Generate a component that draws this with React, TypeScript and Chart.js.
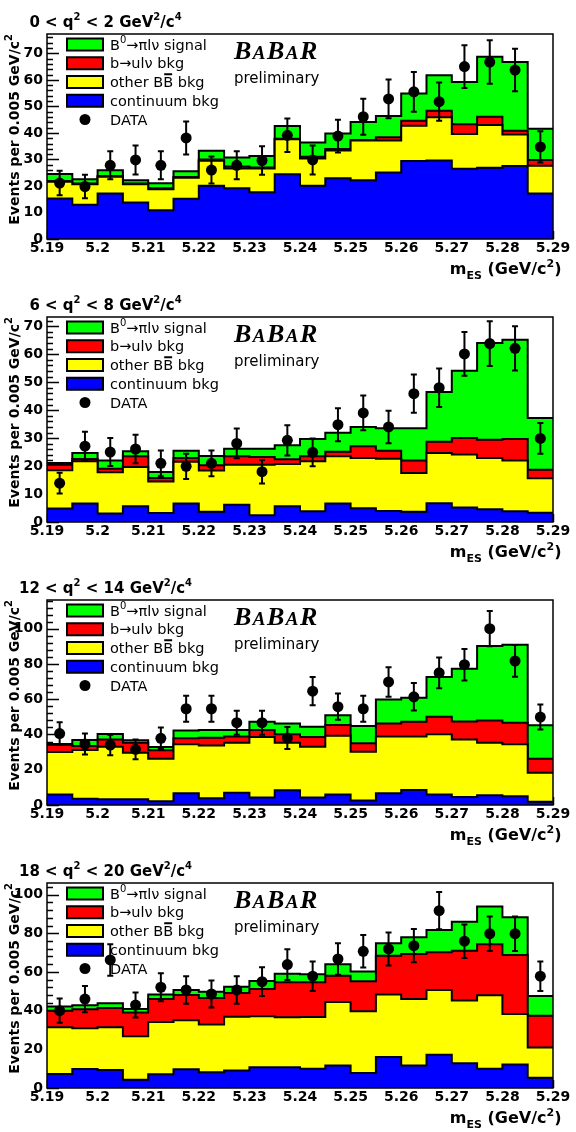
import React, { useEffect, useRef } from 'react';
import { Chart, registerables } from 'chart.js';

Chart.register(...registerables);

// ---------- axes / bins ----------
const binEdges = [5.19, 5.195, 5.2, 5.205, 5.21, 5.215, 5.22, 5.225, 5.23, 5.235, 5.24, 5.245, 5.25, 5.255, 5.26, 5.265, 5.27, 5.275, 5.28, 5.285, 5.29];
const binCenters = [5.1925, 5.1975, 5.2025, 5.2075, 5.2125, 5.2175, 5.2225, 5.2275, 5.2325, 5.2375, 5.2425, 5.2475, 5.2525, 5.2575, 5.2625, 5.2675, 5.2725, 5.2775, 5.2825, 5.2875];
const xTickValues = [5.19, 5.2, 5.21, 5.22, 5.23, 5.24, 5.25, 5.26, 5.27, 5.28, 5.29];
const xTickLabels = ['5.19', '5.2', '5.21', '5.22', '5.23', '5.24', '5.25', '5.26', '5.27', '5.28', '5.29'];

// ---------- panel 1: 0 < q2 < 2 ----------
const p1Continuum = [15.3, 12.9, 17.2, 13.8, 10.8, 15.2, 20.1, 19.1, 17.6, 24.4, 20.1, 22.9, 22.2, 25.1, 29.4, 29.6, 26.5, 26.9, 27.5, 17.2];
const p1OtherBB = [6.3, 7.7, 6.3, 6.8, 8.0, 7.9, 9.4, 7.5, 9.0, 13.2, 10.3, 10.5, 14.9, 12.0, 13.3, 16.3, 13.1, 16.1, 11.9, 10.4];
const p1BToU = [0.3, 0.3, 0.3, 0.3, 0.3, 0.3, 0.5, 0.7, 0.4, 0.2, 0.6, 0.5, 0.2, 1.3, 1.9, 2.5, 3.7, 3.1, 1.4, 2.2];
const p1Signal = [2.6, 1.6, 2.1, 1.3, 1.9, 2.1, 3.3, 3.4, 4.3, 4.8, 5.4, 5.9, 6.8, 8.0, 10.3, 13.3, 15.9, 22.6, 25.9, 11.8];
const p1Data = [21.1, 19.8, 27.8, 29.8, 27.8, 38.1, 26.0, 27.8, 29.6, 39.1, 29.8, 38.8, 46.1, 52.8, 55.5, 51.8, 65.0, 66.7, 63.7, 34.7];
const p1Err = [4.6, 4.4, 5.3, 5.5, 5.3, 6.2, 5.1, 5.3, 5.4, 6.3, 5.5, 6.2, 6.8, 7.3, 7.5, 7.2, 8.1, 8.2, 8.0, 5.9];

// ---------- panel 2: 6 < q2 < 8 ----------
const p2Continuum = [4.8, 6.6, 3.0, 5.6, 3.2, 6.6, 3.7, 6.2, 2.4, 5.6, 3.8, 6.6, 4.9, 3.9, 3.7, 6.7, 5.2, 4.6, 3.8, 3.3];
const p2OtherBB = [13.7, 15.1, 14.8, 14.1, 11.3, 14.9, 14.7, 14.3, 18.1, 15.1, 17.9, 16.9, 18.0, 18.7, 13.8, 18.0, 18.9, 18.3, 18.2, 12.3];
const p2BToU = [2.0, 0.8, 1.2, 3.8, 1.2, 1.4, 1.9, 3.0, 2.7, 1.7, 1.8, 1.6, 4.2, 2.9, 4.5, 4.0, 5.9, 6.5, 7.7, 3.1];
const p2Signal = [0.6, 2.2, 3.0, 1.8, 2.2, 2.6, 3.3, 2.7, 3.0, 5.0, 6.2, 6.8, 6.9, 8.0, 11.5, 17.8, 24.1, 34.6, 35.5, 18.5];
const p2Data = [13.9, 27.1, 25.0, 26.1, 21.0, 19.9, 21.0, 28.1, 18.0, 29.2, 24.9, 34.8, 39.0, 34.0, 45.9, 48.0, 60.1, 63.8, 62.1, 29.9];
const p2Err = [3.7, 5.2, 5.0, 5.1, 4.6, 4.5, 4.6, 5.3, 4.2, 5.4, 5.0, 5.9, 6.2, 5.8, 6.8, 6.9, 7.8, 8.0, 7.9, 5.5];

// ---------- panel 3: 12 < q2 < 14 ----------
const p3Continuum = [6.0, 3.6, 3.2, 3.2, 2.1, 6.6, 3.8, 7.0, 4.2, 8.3, 4.3, 5.9, 2.6, 6.6, 8.5, 5.9, 4.5, 5.5, 4.9, 1.9];
const p3OtherBB = [24.1, 27.6, 29.9, 26.5, 24.2, 27.8, 30.0, 28.3, 34.4, 27.0, 28.8, 33.4, 27.6, 32.2, 30.3, 34.2, 32.7, 29.8, 29.5, 16.4];
const p3BToU = [4.1, 2.3, 4.1, 5.6, 4.7, 3.4, 4.4, 3.5, 3.9, 4.8, 5.5, 6.1, 4.8, 7.5, 8.5, 10.0, 10.2, 12.7, 12.3, 8.0];
const p3Signal = [0.4, 3.4, 3.1, 1.4, 1.9, 4.5, 4.3, 3.7, 4.8, 6.2, 5.8, 5.5, 9.8, 13.6, 13.6, 22.5, 29.9, 42.2, 44.2, 18.9];
const p3Data = [40.5, 34.6, 34.0, 31.6, 37.8, 54.6, 54.6, 46.7, 46.7, 38.0, 64.6, 55.8, 54.6, 69.8, 61.4, 75.0, 79.6, 100.0, 81.7, 49.9];
const p3Err = [6.4, 5.9, 5.8, 5.6, 6.1, 7.4, 7.4, 6.8, 6.8, 6.2, 8.0, 7.5, 7.4, 8.4, 7.8, 8.7, 8.9, 10.0, 9.0, 7.1];

// ---------- panel 4: 18 < q2 < 20 ----------
const p4Continuum = [7.2, 9.8, 9.3, 4.3, 7.1, 9.7, 8.1, 9.0, 10.7, 10.7, 10.0, 11.6, 7.8, 16.0, 11.6, 17.2, 12.8, 10.0, 12.2, 5.3];
const p4OtherBB = [24.2, 21.1, 22.1, 22.4, 27.0, 25.3, 24.7, 27.9, 26.4, 25.9, 26.7, 32.9, 31.9, 32.4, 34.4, 33.5, 32.5, 37.9, 26.1, 15.7];
const p4BToU = [8.6, 9.8, 10.0, 12.3, 11.9, 13.1, 13.8, 12.2, 14.1, 18.1, 18.0, 13.6, 15.5, 20.0, 23.3, 19.5, 25.7, 26.4, 30.5, 16.4];
const p4Signal = [2.2, 2.1, 2.4, 1.9, 2.3, 2.6, 3.2, 3.3, 4.1, 4.4, 4.1, 5.9, 5.0, 6.4, 8.6, 11.5, 15.0, 19.5, 19.5, 10.2];
const p4Data = [40.0, 46.0, 66.2, 42.9, 52.1, 50.7, 48.6, 50.7, 55.0, 63.8, 57.8, 66.7, 70.7, 71.9, 73.6, 91.7, 75.9, 79.8, 79.8, 57.8];
const p4Err = [6.3, 6.8, 8.1, 6.5, 7.2, 7.1, 7.0, 7.1, 7.4, 8.0, 7.6, 8.2, 8.4, 8.5, 8.6, 9.6, 8.7, 8.9, 8.9, 7.6];

const q2Low = ['0', '6', '12', '18'];
const q2High = ['2', '8', '14', '20'];
const yMaxes = [77.3, 73.3, 116.3, 106];
const yMajorSteps = [10, 10, 20, 20];
const yMinorSteps = [2, 2, 4, 4];

const legendLabels = ['B0→πlν signal', 'b→ulν bkg', 'other BB bkg', 'continuum bkg', 'DATA'];

const COLORS = { signal: '#00ff00', bToU: '#ff0000', otherBB: '#ffff00', continuum: '#0000ff' };

const panels = [
  { cont: p1Continuum, bb: p1OtherBB, bu: p1BToU, sig: p1Signal, data: p1Data, err: p1Err },
  { cont: p2Continuum, bb: p2OtherBB, bu: p2BToU, sig: p2Signal, data: p2Data, err: p2Err },
  { cont: p3Continuum, bb: p3OtherBB, bu: p3BToU, sig: p3Signal, data: p3Data, err: p3Err },
  { cont: p4Continuum, bb: p4OtherBB, bu: p4BToU, sig: p4Signal, data: p4Data, err: p4Err },
].map((p, i) => ({ ...p, lo: q2Low[i], hi: q2High[i], yMax: yMaxes[i], yStep: yMajorSteps[i], yMinor: yMinorSteps[i] }));

const W = 576;
const H = 283;
const SANS = '"DejaVu Sans", sans-serif';
const SERIF = '"Liberation Serif", "DejaVu Serif", serif';

type Part = { t: string; sup?: boolean; sub?: boolean; over?: boolean };

function richWidth(ctx: CanvasRenderingContext2D, parts: Part[], size: number, weight: string) {
  let w = 0;
  for (const p of parts) {
    const s = p.sup || p.sub ? Math.round(size * 0.68) : size;
    ctx.font = `${weight} ${s}px ${SANS}`;
    w += ctx.measureText(p.t).width;
  }
  return w;
}

function drawRich(ctx: CanvasRenderingContext2D, parts: Part[], x: number, y: number, size: number, weight: string) {
  let cx = x;
  ctx.textBaseline = 'alphabetic';
  ctx.textAlign = 'left';
  for (const p of parts) {
    const s = p.sup || p.sub ? Math.round(size * 0.68) : size;
    ctx.font = `${weight} ${s}px ${SANS}`;
    const dy = p.sup ? -size * 0.45 : p.sub ? size * 0.32 : 0;
    ctx.fillText(p.t, cx, y + dy);
    const w = ctx.measureText(p.t).width;
    if (p.over) {
      ctx.save();
      ctx.lineWidth = 2;
      ctx.beginPath();
      ctx.moveTo(cx + 1, y - size * 0.88);
      ctx.lineTo(cx + w - 1, y - size * 0.88);
      ctx.stroke();
      ctx.restore();
    }
    cx += w;
  }
}

function cumulative(arrays: number[][]) {
  const out: number[][] = [];
  let run = arrays[0].map(() => 0);
  for (const a of arrays) {
    run = run.map((v, i) => v + a[i]);
    out.push(run);
  }
  return out;
}

function stepPoints(values: number[]) {
  return binEdges.map((x, i) => ({ x, y: values[Math.min(i, values.length - 1)] }));
}

function makePlugin(panel: any) {
  return {
    id: 'rootStyle',
    beforeDatasetsDraw(chart: any) {
      const { ctx, chartArea: a, scales } = chart;
      const ys = scales.y;
      const xs = scales.x;
      ctx.save();
      ctx.strokeStyle = '#000';
      ctx.lineWidth = 1.5;
      ctx.beginPath();
      const nMinor = Math.floor(panel.yMax / panel.yMinor);
      for (let i = 0; i <= nMinor; i++) {
        const v = i * panel.yMinor;
        const isMajor = Math.abs(v / panel.yStep - Math.round(v / panel.yStep)) < 1e-6;
        const py = Math.round(ys.getPixelForValue(v)) + 0.5;
        ctx.moveTo(a.left, py);
        ctx.lineTo(a.left + (isMajor ? 12 : 6), py);
      }
      for (let i = 0; i <= 50; i++) {
        const v = xTickValues[0] + i * 0.002;
        const isMajor = i % 5 === 0;
        const px = Math.round(xs.getPixelForValue(v)) + 0.5;
        ctx.moveTo(px, a.bottom);
        ctx.lineTo(px, a.bottom - (isMajor ? 8 : 4));
      }
      ctx.stroke();
      ctx.restore();
    },
    afterDatasetsDraw(chart: any) {
      const { ctx, chartArea: a, scales } = chart;
      const xs = scales.x;
      const ys = scales.y;
      ctx.save();
      // error bars
      ctx.strokeStyle = '#000';
      ctx.lineWidth = 2;
      ctx.beginPath();
      panel.data.forEach((v: number, i: number) => {
        const px = xs.getPixelForValue(binCenters[i]);
        const top = ys.getPixelForValue(v + panel.err[i]);
        const bot = ys.getPixelForValue(v - panel.err[i]);
        ctx.moveTo(px, top);
        ctx.lineTo(px, bot);
        ctx.moveTo(px - 3, top);
        ctx.lineTo(px + 3, top);
        ctx.moveTo(px - 3, bot);
        ctx.lineTo(px + 3, bot);
      });
      ctx.stroke();
      // frame
      ctx.lineWidth = 1.5;
      ctx.strokeRect(a.left, a.top, a.right - a.left, a.bottom - a.top);

      // legend
      const lx0 = 67;
      const lx1 = 103;
      const tx = 110;
      const boxColors = [COLORS.signal, COLORS.bToU, COLORS.otherBB, COLORS.continuum];
      const labelParts: Part[][] = [
        [{ t: legendLabels[0].slice(0, 1) }, { t: legendLabels[0].slice(1, 2), sup: true }, { t: legendLabels[0].slice(2) }],
        [{ t: legendLabels[1] }],
        [{ t: legendLabels[2].slice(0, 7) }, { t: legendLabels[2].slice(7, 8), over: true }, { t: legendLabels[2].slice(8) }],
        [{ t: legendLabels[3] }],
        [{ t: legendLabels[4] }],
      ];
      for (let i = 0; i < 5; i++) {
        const cy = 44.5 + i * 18.75;
        if (i < 4) {
          ctx.fillStyle = boxColors[i];
          ctx.fillRect(lx0, cy - 6, lx1 - lx0, 12);
          ctx.lineWidth = 2;
          ctx.strokeStyle = '#000';
          ctx.strokeRect(lx0, cy - 6, lx1 - lx0, 12);
        } else {
          ctx.fillStyle = '#000';
          ctx.beginPath();
          ctx.arc((lx0 + lx1) / 2, cy, 5.5, 0, Math.PI * 2);
          ctx.fill();
        }
        ctx.fillStyle = '#000';
        drawRich(ctx, labelParts[i], tx, cy + 5, 14.5, 'normal');
      }

      // BABAR logo
      ctx.fillStyle = '#000';
      ctx.textAlign = 'left';
      ctx.textBaseline = 'alphabetic';
      let bx = 234;
      const letters = [['B', 26], ['A', 19], ['B', 26], ['A', 19], ['R', 26]] as [string, number][];
      for (const [ch, sz] of letters) {
        ctx.font = `italic bold ${sz}px ${SERIF}`;
        ctx.fillText(ch, bx, 59);
        bx += ctx.measureText(ch).width + 1.5;
      }
      ctx.font = `normal 15px ${SANS}`;
      ctx.fillText('preliminary', 234, 83);

      // title
      const titleParts: Part[] = [
        { t: `${panel.lo} < q` }, { t: '2', sup: true }, { t: ` < ${panel.hi} GeV` }, { t: '2', sup: true }, { t: '/c' }, { t: '4', sup: true },
      ];
      const tw = richWidth(ctx, titleParts, 15, 'bold');
      drawRich(ctx, titleParts, 105.5 - tw / 2, 27, 15, 'bold');

      // x title
      const xParts: Part[] = [{ t: 'm' }, { t: 'ES', sub: true }, { t: ' (GeV/c' }, { t: '2', sup: true }, { t: ')' }];
      const xw = richWidth(ctx, xParts, 16, 'bold');
      drawRich(ctx, xParts, 561.5 - xw, 274, 16, 'bold');

      // y title
      const yParts: Part[] = [{ t: 'Events per 0.005 GeV/c' }, { t: '2', sup: true }];
      const yw = richWidth(ctx, yParts, 14, 'bold');
      ctx.translate(18.5, a.top);
      ctx.rotate(-Math.PI / 2);
      drawRich(ctx, yParts, -yw, 0, 14, 'bold');
      ctx.restore();
    },
  };
}

function Panel({ panel }: { panel: any }) {
  const ref = useRef<HTMLCanvasElement | null>(null);
  useEffect(() => {
    if (!ref.current) return;
    const [c1, c2, c3, c4] = cumulative([panel.cont, panel.bb, panel.bu, panel.sig]);
    const stepDs = (label: string, vals: number[], color: string, fill: any) => ({
      label,
      data: stepPoints(vals),
      stepped: 'before',
      borderColor: '#000',
      borderWidth: 2,
      backgroundColor: color,
      fill,
      pointRadius: 0,
      borderJoinStyle: 'miter',
      borderCapStyle: 'butt',
    });
    const chart = new Chart(ref.current, {
      type: 'line',
      data: {
        datasets: [
          {
            label: legendLabels[4],
            data: binCenters.map((x, i) => ({ x, y: panel.data[i] })),
            showLine: false,
            pointRadius: 5.5,
            pointBackgroundColor: '#000',
            pointBorderColor: '#000',
            pointBorderWidth: 0,
            fill: false,
          } as any,
          stepDs(legendLabels[3], c1, COLORS.continuum, 'origin'),
          stepDs(legendLabels[2], c2, COLORS.otherBB, '-1'),
          stepDs(legendLabels[1], c3, COLORS.bToU, '-1'),
          stepDs(legendLabels[0], c4, COLORS.signal, '-1'),
        ],
      },
      options: {
        responsive: false,
        animation: false,
        events: [],
        layout: { padding: { top: 34, right: 23, left: 0, bottom: 0 } },
        plugins: { legend: { display: false }, tooltip: { enabled: false }, title: { display: false } },
        scales: {
          x: {
            type: 'linear',
            min: binEdges[0],
            max: binEdges[binEdges.length - 1],
            grid: { display: false, drawTicks: false },
            border: { display: false },
            afterBuildTicks: (axis: any) => {
              axis.ticks = xTickValues.map((v) => ({ value: v }));
            },
            afterFit: (axis: any) => {
              axis.height = H - 239;
            },
            ticks: {
              autoSkip: false,
              maxRotation: 0,
              padding: 1,
              color: '#000',
              font: { family: SANS, weight: 'bold', size: 14 },
              callback: (_v: any, idx: number) => xTickLabels[idx],
            },
          },
          y: {
            min: 0,
            max: panel.yMax,
            grid: { display: false, drawTicks: false },
            border: { display: false },
            afterFit: (axis: any) => {
              axis.width = 47;
            },
            ticks: {
              stepSize: panel.yStep,
              includeBounds: false,
              padding: 4,
              color: '#000',
              font: { family: SANS, weight: 'bold', size: 14 },
            },
          },
        },
      } as any,
      plugins: [makePlugin(panel)],
    });
    return () => chart.destroy();
  }, [panel]);
  return <canvas ref={ref} width={W} height={H} style={{ display: 'block', width: W, height: H }} />;
}

export default function App() {
  return (
    <div style={{ position: 'absolute', left: 0, top: 0, width: W, height: H * 4, background: '#fff' }}>
      {panels.map((p, i) => (
        <Panel key={i} panel={p} />
      ))}
    </div>
  );
}
